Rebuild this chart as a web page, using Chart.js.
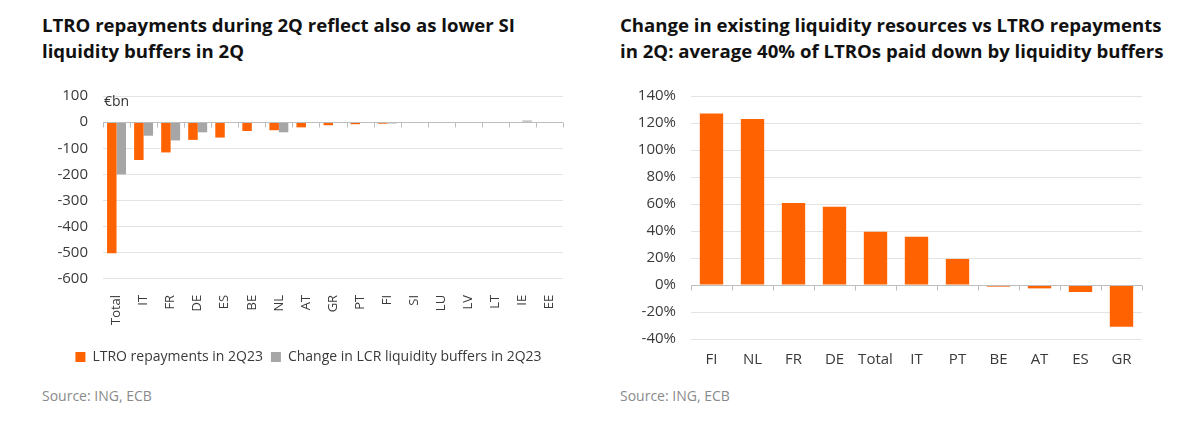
<!DOCTYPE html>
<html><head><meta charset="utf-8">
<script src="https://cdn.jsdelivr.net/npm/chart.js@4.4.0/dist/chart.umd.min.js"></script>
<style>
body{margin:0;width:1200px;height:424px;background:#fff;position:relative;overflow:hidden;font-family:"Open Sans",sans-serif;}
.title{position:absolute;top:12px;font-weight:bold;font-size:18.6px;font-family:"Open Sans",sans-serif;color:#111;line-height:26px;white-space:nowrap;}
.src{position:absolute;top:386px;font-size:14px;font-family:"Open Sans",sans-serif;color:#8a8a8a;}
.box{position:absolute;top:72px;width:600px;}
.unit{position:absolute;left:104px;top:91px;font-size:14px;color:#333;font-family:"Open Sans",sans-serif;}
</style></head><body>
<div class="title" style="left:42px">LTRO repayments during 2Q reflect also as lower SI<br>liquidity buffers in 2Q</div>
<div class="title" style="left:620px">Change in existing liquidity resources vs LTRO repayments<br>in 2Q: average 40% of LTROs paid down by liquidity buffers</div>
<div class="box" style="left:0;height:302px"><canvas id="c1"></canvas></div>
<div class="box" style="left:600px;height:301px"><canvas id="c2"></canvas></div>
<div class="unit">€bn</div>
<div class="src" style="left:42px">Source: ING, ECB</div>
<div class="src" style="left:620px">Source: ING, ECB</div>
<script>
// ---- data: left chart (€bn)
const leftCategories = ["Total","IT","FR","DE","ES","BE","NL","AT","GR","PT","FI","SI","LU","LV","LT","IE","EE"];
const ltroRepayments = [-502,-145,-116,-68,-59,-34,-31,-20,-12,-8,-6,-1,-1,-1,-1,-1,-1];
const lcrBufferChange = [-200,-52,-70,-39,2,0,-39,0,2,0,-5,0,-1,0,0,6,0];
const leftTicks = [100,0,-100,-200,-300,-400,-500,-600];
// ---- data: right chart (%)
const rightCategories = ["FI","NL","FR","DE","Total","IT","PT","BE","AT","ES","GR"];
const liquidityShare = [127,123,60.7,58,39.5,35.8,19.3,-1.2,-2.5,-5.2,-31];
const rightTicks = [140,120,100,80,60,40,20,0,-20,-40];

const ORANGE = "#FF6200", GREY = "#A6A6A6", TXT = "#3a3a3a", GRID = "#e3e3e3";
Chart.defaults.font.family = '"Open Sans", sans-serif';
Chart.defaults.font.size = 15;
Chart.defaults.color = TXT;
Chart.defaults.animation = false;

const zeroAxis = {
  id: "zeroAxis",
  afterDatasetsDraw(chart) {
    const {ctx, chartArea: a, scales} = chart;
    const y0 = Math.round(scales.y.getPixelForValue(0)) + 0.5;
    const n = chart.data.labels.length;
    ctx.save();
    ctx.strokeStyle = "#bdbdbd";
    ctx.lineWidth = 1;
    ctx.beginPath();
    ctx.moveTo(a.left, y0); ctx.lineTo(a.right, y0);
    for (let i = 0; i <= n; i++) {
      const x = Math.round(a.left + i * (a.right - a.left) / n) + 0.5;
      ctx.moveTo(x, y0); ctx.lineTo(x, y0 + 5);
    }
    ctx.stroke();
    ctx.restore();
  }
};

function yAxis(min, max, step, width, fmt) {
  return {
    min, max,
    border: {display: false},
    grid: {color: GRID, drawTicks: false},
    ticks: {stepSize: step, padding: 15, callback: fmt},
    afterFit: s => { s.width = width; }
  };
}

new Chart(document.getElementById("c1"), {
  type: "bar",
  data: {
    labels: leftCategories,
    datasets: [
      {label: "LTRO repayments in 2Q23", data: ltroRepayments, backgroundColor: ORANGE},
      {label: "Change in LCR liquidity buffers in 2Q23", data: lcrBufferChange, backgroundColor: GREY}
    ]
  },
  options: {
    responsive: true, maintainAspectRatio: false,
    layout: {padding: {left: 54, right: 37, top: 7, bottom: 0}},
    datasets: {bar: {categoryPercentage: 0.7, barPercentage: 1.0}},
    scales: {
      x: {grid: {display: false}, border: {display: false},
          ticks: {minRotation: 90, maxRotation: 90, padding: 8, font: {size: 13}},
          afterFit: s => { s.height += 9; }},
      y: yAxis(-600, 100, 100, 49, v => leftTicks.includes(v) ? v : "")
    },
    plugins: {
      legend: {position: "bottom",
        labels: {boxWidth: 10, boxHeight: 10, padding: 8, font: {size: 14}, color: TXT}},
      tooltip: {enabled: false}
    }
  },
  plugins: [zeroAxis]
});

new Chart(document.getElementById("c2"), {
  type: "bar",
  data: {
    labels: rightCategories,
    datasets: [{label: "Share", data: liquidityShare, backgroundColor: ORANGE}]
  },
  options: {
    responsive: true, maintainAspectRatio: false,
    layout: {padding: {left: 30, right: 58, top: 7, bottom: 0}},
    datasets: {bar: {categoryPercentage: 0.57, barPercentage: 1.0}},
    scales: {
      x: {grid: {display: false}, border: {display: false},
          ticks: {padding: 4, maxRotation: 0}},
      y: yAxis(-40, 140, 20, 61, v => rightTicks.includes(v) ? v + "%" : "")
    },
    plugins: {legend: {display: false}, tooltip: {enabled: false}}
  },
  plugins: [zeroAxis]
});
</script>
</body></html>
